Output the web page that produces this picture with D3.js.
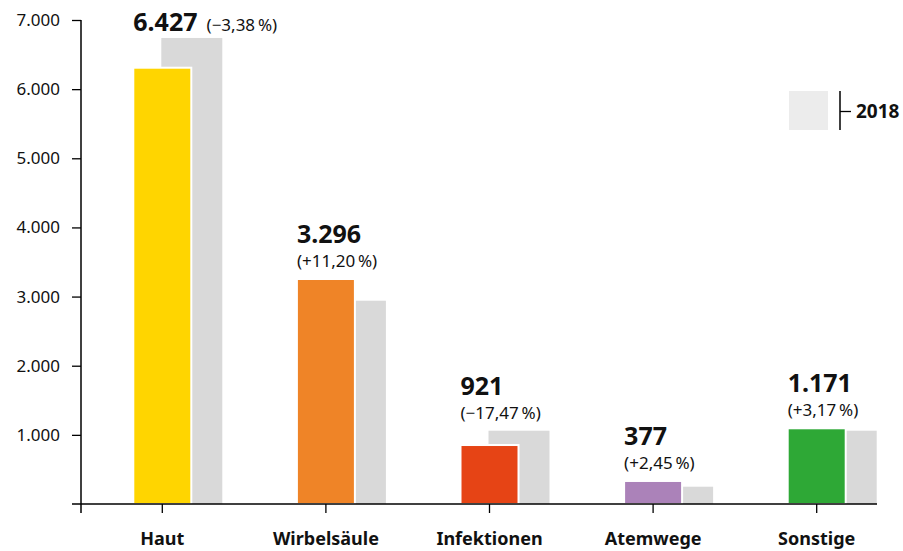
<!DOCTYPE html>
<html>
<head>
<meta charset="utf-8">
<script src="https://cdn.jsdelivr.net/npm/d3@7"></script>
<style>
  body { margin: 0; background: #fff; }
  svg { display: block; font-family: "Noto Sans", sans-serif; }
</style>
</head>
<body>
<div id="chart-area"></div>
<script>
// DATA (bar heights, labels as printed)
const categories = ['Haut', 'Wirbelsäule', 'Infektionen', 'Atemwege', 'Sonstige']
const values2019 = [6310, 3254, 853, 333, 1095]
const values2018 = [6740, 2940, 1060, 250, 1060]
const valueLabels = ['6.427', '3.296', '921', '377', '1.171']
const changeLabels = ['(\u22123,38\u202F%)', '(+11,20\u202F%)', '(\u221217,47\u202F%)', '(+2,45\u202F%)', '(+3,17\u202F%)']
const colors = ['#ffd500', '#ef8427', '#e64415', '#ab82b9', '#2ea836']
const yTicks = [1000, 2000, 3000, 4000, 5000, 6000, 7000]
const legendLabel = '2018'

const width = 903
const height = 551

const de = d3.formatLocale({ decimal: ',', thousands: '.', grouping: [3], currency: ['', ' €'] })
const fmt = de.format(',')

// CREATE SVG CONTAINER
const svg = d3.select('#chart-area')
              .append('svg')
              .attr('width', width)
              .attr('height', height)

// SCALES
const x = d3.scaleBand()
            .domain(categories)
            .range([80.5, 898.5])
            .paddingOuter(0)

const y = d3.scaleLinear()
            .domain([0, 7000])
            .range([504, 20])

const cx = d => x(d) + x.bandwidth() / 2

// Y AXIS
const yAxis = svg.append('g')
                 .attr('transform', 'translate(81,0)')
                 .call(d3.axisLeft(y).tickValues(yTicks).tickFormat(fmt).tickSize(9).tickPadding(12))
yAxis.select('.domain').remove()
yAxis.selectAll('line').attr('stroke', '#000').attr('stroke-width', 1.3)
yAxis.selectAll('text')
     .attr('font-size', 17)
     .attr('font-family', '"Noto Sans", sans-serif')
     .attr('fill', '#111')

svg.append('line')
   .attr('x1', 81).attr('x2', 81)
   .attr('y1', y(7000)).attr('y2', y(0) + 9)
   .attr('stroke', '#000').attr('stroke-width', 1.5)

// GREY 2018 BARS (behind)
svg.selectAll('rect.prev').data(categories)
   .enter()
   .append('rect')
   .attr('class', 'prev')
   .attr('x', d => cx(d) - 1)
   .attr('width', 61)
   .attr('y', (d, i) => y(values2018[i]))
   .attr('height', (d, i) => y(0) - y(values2018[i]))
   .attr('fill', '#d9d9d9')

// COLOURED 2019 BARS
svg.selectAll('rect.cur').data(categories)
   .enter()
   .append('rect')
   .attr('class', 'cur')
   .attr('x', d => cx(d) - 29)
   .attr('width', 58)
   .attr('y', (d, i) => y(values2019[i]))
   .attr('height', (d, i) => y(0) - y(values2019[i]))
   .attr('fill', (d, i) => colors[i])
   .attr('stroke', '#fff')
   .attr('stroke-width', 2)

// X AXIS
const xAxis = svg.append('g')
                 .attr('transform', `translate(0,${y(0)})`)
                 .call(d3.axisBottom(x).tickSize(9).tickPadding(19))
xAxis.select('.domain').remove()
xAxis.selectAll('line').attr('stroke', '#000').attr('stroke-width', 1.3)
xAxis.selectAll('text')
     .attr('font-size', 18)
     .attr('font-weight', 'bold')
     .attr('font-family', '"Noto Sans", sans-serif')
     .attr('fill', '#111')

svg.append('line')
   .attr('x1', 72).attr('x2', 877)
   .attr('y1', y(0)).attr('y2', y(0))
   .attr('stroke', '#000').attr('stroke-width', 1.5)

// VALUE LABELS
categories.forEach((c, i) => {
    const left = cx(c) - 29
    const top = Math.min(y(values2019[i]), y(values2018[i]))
    if (i === 0) {
        const t = svg.append('text')
                     .attr('x', left)
                     .attr('y', 31)
                     .attr('fill', '#111')
        t.append('tspan').attr('font-size', 25).attr('font-weight', 'bold').text(valueLabels[i])
        t.append('tspan').attr('dx', 9).attr('font-size', 17).text(changeLabels[i])
    } else {
        svg.append('text')
           .attr('x', left)
           .attr('y', top - 36)
           .attr('font-size', 25)
           .attr('font-weight', 'bold')
           .attr('fill', '#111')
           .text(valueLabels[i])
        svg.append('text')
           .attr('x', left)
           .attr('y', top - 12)
           .attr('font-size', 17)
           .attr('fill', '#111')
           .text(changeLabels[i])
    }
})

// LEGEND
const legend = svg.append('g')
legend.append('rect')
      .attr('x', 789).attr('y', 91)
      .attr('width', 39).attr('height', 39)
      .attr('fill', '#ececec')
legend.append('line')
      .attr('x1', 840).attr('x2', 840)
      .attr('y1', 91).attr('y2', 130)
      .attr('stroke', '#000').attr('stroke-width', 1.5)
legend.append('line')
      .attr('x1', 840).attr('x2', 851)
      .attr('y1', 111.5).attr('y2', 111.5)
      .attr('stroke', '#000').attr('stroke-width', 1.3)
legend.append('text')
      .attr('x', 856).attr('y', 118)
      .attr('font-size', 19)
      .attr('font-weight', 'bold')
      .attr('fill', '#111')
      .text(legendLabel)
</script>
</body>
</html>
